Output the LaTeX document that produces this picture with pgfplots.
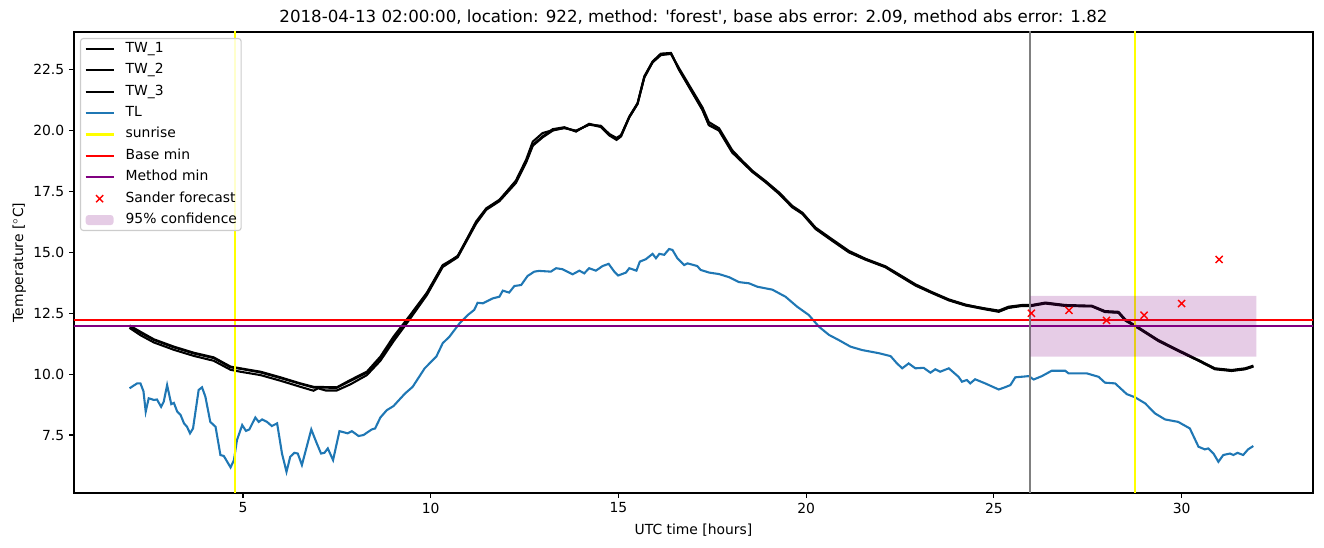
\documentclass[border=0pt]{standalone}
\usepackage{fontspec}
\setmainfont{DejaVu Sans}
\usepackage{pgfplots}
\usepackage{pgfplotstable}
\pgfplotsset{compat=1.18}
\definecolor{tabblue}{HTML}{1F77B4}
\definecolor{mplpurple}{HTML}{800080}
\definecolor{mplgray}{HTML}{808080}
\definecolor{mplyellow}{HTML}{FFFF00}

\pgfplotstableread{
x y
1.98 12.00
2.27 11.74
2.63 11.43
3.16 11.13
3.69 10.88
4.22 10.69
4.67 10.31
4.93 10.24
5.47 10.10
6.00 9.87
6.53 9.62
6.88 9.48
7.50 9.46
7.86 9.76
8.30 10.10
8.66 10.72
9.01 11.54
9.44 12.40
9.90 13.35
10.32 14.48
10.72 14.83
11.21 16.27
11.48 16.81
11.83 17.16
12.27 17.91
12.54 18.73
12.72 19.42
12.98 19.76
13.25 20.06
13.56 20.14
13.87 19.96
14.22 20.28
14.53 20.17
14.76 19.83
14.95 19.66
15.07 19.79
15.29 20.58
15.51 21.13
15.69 22.23
15.91 22.84
16.13 23.16
16.40 23.19
16.62 22.50
16.93 21.68
17.24 20.86
17.41 20.24
17.68 20.03
18.03 19.14
18.30 18.73
18.57 18.32
18.92 17.91
19.28 17.43
19.63 16.88
19.90 16.61
20.25 15.99
20.69 15.51
21.14 15.03
21.58 14.72
22.11 14.41
22.47 14.07
22.91 13.66
23.35 13.35
23.80 13.05
24.24 12.84
24.77 12.70
25.13 12.61
25.39 12.77
25.75 12.84
26.01 12.84
26.37 12.94
26.90 12.84
27.61 12.81
27.96 12.59
28.32 12.56
28.50 12.25
28.85 11.92
29.38 11.40
29.91 10.99
30.45 10.58
30.89 10.24
31.33 10.17
31.69 10.24
31.91 10.35
}\twone

\pgfplotstableread{
x y
1.98 11.97
2.27 11.70
2.63 11.40
3.16 11.10
3.69 10.85
4.22 10.66
4.67 10.28
4.93 10.22
5.47 10.07
6.00 9.84
6.53 9.60
6.88 9.45
7.50 9.44
7.86 9.72
8.30 10.06
8.66 10.66
9.01 11.46
9.44 12.34
9.90 13.30
10.32 14.44
10.72 14.86
11.21 16.22
11.48 16.78
11.83 17.14
12.27 17.95
12.54 18.80
12.72 19.55
12.98 19.90
13.25 20.02
13.56 20.10
13.87 20.00
14.22 20.24
14.53 20.20
14.76 19.86
14.95 19.70
15.07 19.82
15.29 20.55
15.51 21.10
15.69 22.18
15.91 22.80
16.13 23.10
16.40 23.15
16.62 22.55
16.93 21.75
17.24 20.95
17.41 20.35
17.68 20.10
18.03 19.20
18.30 18.76
18.57 18.35
18.92 17.93
19.28 17.46
19.63 16.91
19.90 16.63
20.25 16.02
20.69 15.54
21.14 15.06
21.58 14.74
22.11 14.43
22.47 14.10
22.91 13.69
23.35 13.37
23.80 13.07
24.24 12.86
24.77 12.68
25.13 12.58
25.39 12.74
25.75 12.82
26.01 12.82
26.37 12.92
26.90 12.82
27.61 12.79
27.96 12.57
28.32 12.53
28.50 12.22
28.85 11.90
29.38 11.38
29.91 10.97
30.45 10.56
30.89 10.22
31.33 10.15
31.69 10.21
31.91 10.32
}\twtwo

\pgfplotstableread{
x y
1.98 11.90
2.27 11.60
2.63 11.30
3.16 11.00
3.69 10.75
4.22 10.55
4.67 10.18
4.93 10.10
5.47 9.96
6.00 9.73
6.53 9.48
6.88 9.32
7.00 9.42
7.20 9.33
7.50 9.33
7.86 9.58
8.30 9.96
8.66 10.55
9.01 11.35
9.44 12.25
9.90 13.25
10.32 14.40
10.72 14.80
11.21 16.18
11.48 16.75
11.83 17.10
12.27 17.85
12.54 18.68
12.72 19.38
12.98 19.72
13.25 20.00
13.56 20.12
13.87 19.98
14.22 20.26
14.53 20.15
14.76 19.80
14.95 19.62
15.07 19.76
15.29 20.55
15.51 21.10
15.69 22.20
15.91 22.82
16.13 23.14
16.40 23.17
16.62 22.48
16.93 21.66
17.24 20.84
17.41 20.22
17.68 20.00
18.03 19.10
18.30 18.70
18.57 18.30
18.92 17.88
19.28 17.40
19.63 16.85
19.90 16.58
20.25 15.96
20.69 15.48
21.14 15.00
21.58 14.70
22.11 14.39
22.47 14.05
22.91 13.64
23.35 13.33
23.80 13.03
24.24 12.82
24.77 12.66
25.13 12.56
25.39 12.72
25.75 12.80
26.01 12.80
26.37 12.90
26.90 12.80
27.61 12.78
27.96 12.55
28.32 12.52
28.50 12.20
28.85 11.88
29.38 11.36
29.91 10.95
30.45 10.55
30.89 10.20
31.33 10.13
31.69 10.20
31.91 10.31
}\twthree

\pgfplotstableread{
x y
1.98 9.42
2.18 9.62
2.27 9.62
2.35 9.30
2.41 8.46
2.49 9.01
2.63 8.94
2.71 8.96
2.82 8.66
2.89 8.87
2.98 9.55
3.09 8.77
3.16 8.82
3.25 8.46
3.34 8.32
3.43 7.98
3.51 7.84
3.59 7.57
3.67 7.77
3.82 9.35
3.91 9.46
4.00 9.07
4.13 8.04
4.27 7.84
4.40 6.68
4.49 6.64
4.67 6.17
4.76 6.47
4.84 7.29
4.98 7.91
5.08 7.67
5.17 7.73
5.33 8.22
5.42 8.04
5.51 8.14
5.64 8.04
5.77 7.87
5.91 7.98
6.04 6.74
6.16 5.99
6.26 6.61
6.37 6.77
6.46 6.74
6.57 6.27
6.82 7.73
6.95 7.22
7.08 6.74
7.17 6.77
7.26 6.95
7.40 6.47
7.57 7.66
7.79 7.57
7.90 7.66
8.08 7.46
8.21 7.50
8.43 7.73
8.52 7.77
8.66 8.22
8.83 8.52
9.01 8.69
9.14 8.91
9.32 9.21
9.52 9.48
9.84 10.24
10.15 10.72
10.32 11.27
10.50 11.54
10.77 12.09
10.99 12.43
11.16 12.64
11.25 12.93
11.39 12.91
11.65 13.11
11.83 13.18
11.92 13.43
12.09 13.35
12.23 13.62
12.41 13.66
12.58 14.03
12.76 14.21
12.89 14.24
13.20 14.21
13.34 14.35
13.51 14.31
13.78 14.10
13.96 14.25
14.09 14.14
14.22 14.35
14.40 14.25
14.58 14.44
14.74 14.53
14.89 14.21
14.99 14.05
15.20 14.17
15.29 14.35
15.48 14.25
15.57 14.62
15.73 14.72
15.91 14.94
16.00 14.76
16.09 14.94
16.22 14.90
16.35 15.14
16.44 15.10
16.57 14.76
16.75 14.48
16.84 14.55
17.10 14.44
17.19 14.28
17.42 14.17
17.68 14.11
17.95 13.98
18.21 13.78
18.48 13.73
18.70 13.59
19.10 13.47
19.45 13.18
19.76 12.77
20.07 12.43
20.34 11.95
20.61 11.61
20.87 11.40
21.18 11.13
21.49 10.99
21.94 10.86
22.25 10.74
22.42 10.44
22.56 10.24
22.73 10.44
22.91 10.24
23.13 10.26
23.31 10.06
23.44 10.20
23.57 10.10
23.80 10.24
24.06 9.89
24.15 9.69
24.28 9.76
24.37 9.62
24.50 9.79
24.77 9.62
25.13 9.37
25.31 9.47
25.44 9.55
25.57 9.87
25.79 9.90
25.93 9.92
26.06 9.78
26.28 9.92
26.54 10.14
26.90 10.14
26.99 10.03
27.48 10.03
27.79 9.89
27.96 9.65
28.23 9.62
28.54 9.18
28.76 9.05
29.03 8.80
29.29 8.39
29.56 8.14
29.91 8.04
30.22 7.77
30.45 7.02
30.62 6.91
30.71 6.95
30.85 6.74
30.98 6.40
31.11 6.68
31.29 6.74
31.38 6.68
31.49 6.77
31.64 6.68
31.77 6.91
31.91 7.05
}\tl

\pgfplotstableread{
x y
26 12.50
27 12.62
28 12.21
29 12.42
30 12.90
31 14.71
}\sander

\begin{document}
\begin{tikzpicture}
\useasboundingbox (-53.28pt,-38.88pt) rectangle (900pt,354.96pt);
\begin{axis}[
  scale only axis, width=892.08pt, height=331.92pt,
  xmin=0.5, xmax=33.5, ymin=5.12, ymax=24.05,
  xtick={5,10,15,20,25,30},
  ytick={7.5,10,12.5,15,17.5,20,22.5},
  tick align=outside, xtick pos=bottom, ytick pos=left,
  major tick length=3.5pt,
  every tick/.style={black, line width=0.8pt},
  axis line style={line width=0.8pt},
  tick label style={font=\fontsize{10}{12}\selectfont},
  /pgf/number format/assume math mode=true,
  yticklabel style={/pgf/number format/.cd, fixed, fixed zerofill, precision=1},
  xticklabel style={/pgf/number format/.cd, fixed, precision=0},
  every axis title shift=0pt,
  title={2018-04-13 02:00:00, location: 922, method: \textquotesingle forest\textquotesingle, base abs error: 2.09, method abs error: 1.82},
  title style={at={(axis description cs:0.5,1.01958)}, anchor=base, font=\fontsize{12}{14}\selectfont},
  xlabel={UTC time [hours]},
  xlabel style={at={(axis description cs:0.5,-0.09099)}, anchor=base, font=\fontsize{10}{12}\selectfont},
  ylabel={Temperature [$^\circ$C]},
  ylabel style={at={(axis description cs:-0.04114,0.5)}, anchor=base, font=\fontsize{10}{12}\selectfont},
  legend image code/.code={\draw[mark repeat=2,mark phase=2,#1] plot coordinates {(0pt,0pt) (10pt,0pt) (20pt,0pt)};},
  legend cell align=left,
  legend style={at={(axis description cs:0,1)}, anchor=north west, xshift=4.3pt, yshift=-4.3pt,
    draw=black!20, line width=0.8pt, fill=white, fill opacity=0.8, text opacity=1, rounded corners=2pt,
    font=\fontsize{10}{12}\selectfont, inner xsep=3pt, inner ysep=2.5pt,
    row sep=5.4pt, column sep=8pt,
    nodes={inner sep=0pt, text height=7.5pt, text depth=2.5pt}},
]
\addlegendimage{black, line width=1.5pt}\addlegendentry{TW\_1}
\addlegendimage{black, line width=1.5pt}\addlegendentry{TW\_2}
\addlegendimage{black, line width=1.5pt}\addlegendentry{TW\_3}
\addlegendimage{tabblue, line width=1.5pt}\addlegendentry{TL}
\addlegendimage{mplyellow, line width=1.5pt}\addlegendentry{sunrise}
\addlegendimage{red, line width=1.5pt}\addlegendentry{Base min}
\addlegendimage{mplpurple, line width=1.5pt}\addlegendentry{Method min}
\addlegendimage{only marks, mark=x, red, mark size=3.6pt, line width=1pt}\addlegendentry{Sander forecast}
\addlegendimage{legend image code/.code={\path[draw=none, fill=mplpurple, fill opacity=0.2] (0pt,-3.6pt) rectangle (20pt,3.6pt);}}\addlegendentry{95\% confidence}

\addplot[forget plot, black, line width=1.5pt] table {\twone};
\addplot[forget plot, black, line width=1.5pt] table {\twtwo};
\addplot[forget plot, black, line width=1.5pt] table {\twthree};
\addplot[forget plot, tabblue, line width=1.5pt] table {\tl};
\addplot[forget plot, mplyellow, line width=1.5pt] coordinates {(4.78,0) (4.78,30)};
\addplot[forget plot, mplyellow, line width=1.5pt] coordinates {(28.76,0) (28.76,30)};
\addplot[forget plot, red, line width=1.5pt] coordinates {(0,12.22) (40,12.22)};
\addplot[forget plot, mplpurple, line width=1.5pt] coordinates {(0,11.98) (40,11.98)};
\addplot[forget plot, mplgray, line width=1.5pt] coordinates {(25.97,0) (25.97,30)};
\addplot[forget plot, only marks, mark=x, red, mark size=3.6pt, line width=1pt] table {\sander};
\addplot[forget plot, draw=none, fill=mplpurple, fill opacity=0.2] coordinates {(25.97,10.72) (31.99,10.72) (31.99,13.21) (25.97,13.21) (25.97,10.72)};
\end{axis}
\end{tikzpicture}
\end{document}
